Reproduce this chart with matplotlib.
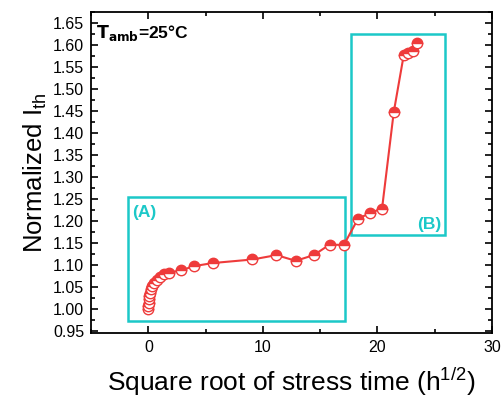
import matplotlib
matplotlib.use("Agg")
import matplotlib.pyplot as plt
from matplotlib.patches import Rectangle
from matplotlib.ticker import MultipleLocator

plt.rcParams['font.family'] = ['Liberation Sans', 'DejaVu Sans']
plt.rcParams['mathtext.default'] = 'regular'

# square root of stress time (h^1/2) and normalized threshold current
sqrt_t = [0.0, 0.0, 0.02, 0.05, 0.08, 0.12, 0.18, 0.32, 0.49, 0.72, 0.99, 1.37, 1.80,
          2.82, 3.99, 5.65, 9.08, 11.18, 12.86, 14.44, 15.83, 17.06,
          18.31, 19.39, 20.40, 21.42, 22.30, 22.67, 23.11, 23.49]
ith = [1.000, 1.007, 1.014, 1.021, 1.028, 1.036, 1.044, 1.051, 1.058, 1.065, 1.072, 1.078, 1.082,
       1.087, 1.097, 1.104, 1.112, 1.122, 1.109, 1.122, 1.146, 1.145,
       1.205, 1.218, 1.228, 1.447, 1.578, 1.582, 1.586, 1.605]

# highlighted regions: (x0, x1, y0, y1)
box_a = (-1.75, 17.2, 0.972, 1.254)
box_b = (17.67, 25.9, 1.167, 1.626)

red = '#ee3b3b'
cyan = '#1cc8c8'

fig = plt.figure(figsize=(5.01, 4.03), dpi=100)
ax = fig.add_axes([0.182, 0.174, 0.8, 0.796])

ax.plot(sqrt_t, ith, '-o', color=red, lw=1.5, ms=7.5, mew=1.0,
        mec=red, mfc=red, fillstyle='top', markerfacecoloralt='white')

for x0, x1, y0, y1 in (box_a, box_b):
    ax.add_patch(Rectangle((x0, y0), x1 - x0, y1 - y0, fill=False,
                           ec=cyan, lw=1.8, zorder=1))

ax.text(box_a[0] + 0.3, box_a[3] - 0.018, '(A)', color=cyan, fontsize=12.5,
        fontweight='bold', ha='left', va='top')
ax.text(box_b[1] - 0.35, box_b[2] + 0.008, '(B)', color=cyan, fontsize=12.5,
        fontweight='bold', ha='right', va='bottom')
ax.text(-4.55, 1.628, r'$\mathbf{T_{amb}}$=25°C', fontsize=12.5, fontweight='bold',
        ha='left', va='center')

ax.set_xlim(-5, 30)
ax.set_ylim(0.945, 1.675)
ax.xaxis.set_major_locator(MultipleLocator(10))
ax.xaxis.set_minor_locator(MultipleLocator(5))
ax.yaxis.set_minor_locator(MultipleLocator(0.025))
ax.tick_params(which='both', direction='in', top=True, right=True, width=1.2,
               labelsize=11.5)
ax.tick_params(which='major', length=5, pad=5)
ax.tick_params(which='minor', length=3)
ax.set_yticks([0.95 + 0.05 * i for i in range(15)])
ax.set_yticklabels(['%.2f' % (0.95 + 0.05 * i) for i in range(15)])
for s in ax.spines.values():
    s.set_linewidth(1.3)

ax.set_xlabel('Square root of stress time (h$^{1/2}$)', fontsize=19, labelpad=8)
ax.set_ylabel('Normalized I$_{th}$', fontsize=18.5, labelpad=3)

fig.savefig('out.png', dpi=100)
